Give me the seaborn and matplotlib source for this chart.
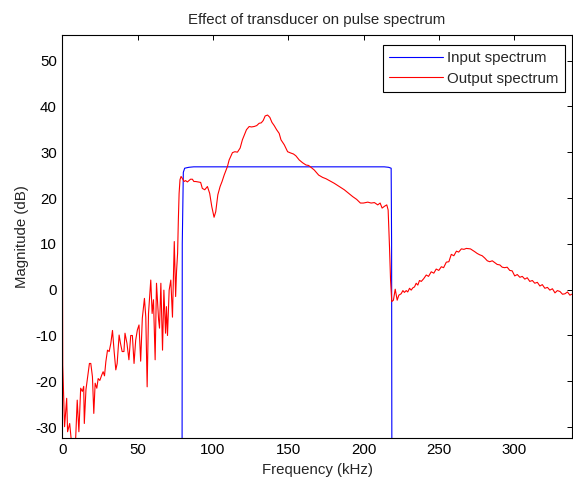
import numpy as np
import pandas as pd
import matplotlib
matplotlib.use("Agg")
import matplotlib.pyplot as plt
import seaborn as sns

# ---- data ----
input_freq = [0, 79.3, 79.6, 80.3, 81.2, 84.0, 87.2, 150.0, 213.6, 216.5, 218.2, 218.5, 218.9, 338.0]
input_db = [-100, -100, 10.0, 25.6, 26.5, 26.7, 26.8, 26.8, 26.8, 26.7, 26.5, 10.0, -100, -100]

output_freq = [
    0.0, 0.3, 1.5, 2.9, 3.5, 4.9, 6.0, 7.5, 8.8, 9.9, 11.0, 12.2, 13.3, 14.2, 14.6,
    15.7, 16.9, 18.0, 18.9, 20.0, 20.9, 21.8, 22.9, 23.8, 24.9, 26.2, 27.1, 28.0,
    28.9, 30.0, 31.1, 32.2, 33.3, 34.4, 35.5, 36.4, 37.7, 38.6, 39.7, 40.9, 41.6,
    42.9, 44.2, 45.4, 46.5, 47.6, 48.7, 49.8, 50.9, 52.0, 53.1, 54.5, 55.4, 56.3,
    57.2, 58.7, 59.6, 60.5, 61.6, 62.5, 63.9, 64.5, 65.4, 66.5, 67.4, 68.5, 69.1,
    69.8, 70.9, 72.0, 73.1, 73.8, 74.3, 75.2, 75.8, 76.5, 77.0, 77.5, 78.1, 78.8,
    79.6, 80.8, 81.8, 83.0, 84.0, 85.1, 86.3, 87.3, 88.5, 90.0, 91.8, 92.9, 94.5,
    96.3, 97.8, 99.2, 100.7, 101.8, 103.2, 104.7, 106.0, 107.4, 109.6, 110.7,
    112.9, 114.5, 116.2, 118.0, 119.5, 121.0, 122.2, 124.0, 125.5, 127.3, 129.0,
    130.6, 132.0, 133.3, 134.6, 136.2, 137.7, 139.1, 140.6, 142.2, 143.9, 145.1,
    147.3, 149.5, 151.7, 153.4, 155.0, 157.2, 159.4, 161.7, 163.4, 165.0, 167.2,
    170.1, 172.7, 175.0, 177.2, 180.5, 183.8, 187.1, 190.5, 192.7, 195.3, 197.8,
    199.8, 202.7, 204.9, 207.1, 209.3, 210.9, 212.2, 213.8, 215.3, 216.2, 217.1,
    217.8, 218.6, 219.7, 220.9, 222.2, 223.3, 224.8, 226.0, 227.0, 228.2, 229.2,
    230.4, 231.5, 232.6, 233.7, 234.8, 235.9, 237.0, 238.2, 239.8, 241.5, 243.0,
    244.8, 246.5, 248.1, 249.8, 251.5, 253.0, 254.8, 256.5, 258.1, 259.8, 261.5,
    263.0, 264.8, 266.5, 268.1, 270.8, 273.6, 275.3, 277.0, 278.6, 280.3, 282.0,
    283.6, 285.3, 286.9, 288.6, 290.3, 291.9, 293.5, 295.2, 296.9, 298.5, 300.2,
    301.9, 303.6, 305.2, 306.9, 308.5, 310.2, 311.9, 313.5, 315.2, 316.9, 318.5,
    320.2, 321.9, 323.5, 325.2, 326.9, 328.5, 330.2, 331.9, 333.5, 335.2, 336.8,
    338.0,
]
output_db = [
    19.5, -16.5, -29.9, -23.7, -31.0, -29.2, -33.0, -33.0, -33.0, -24.1, -31.0,
    -21.5, -22.2, -21.1, -29.2, -21.8, -18.8, -16.1, -16.1, -19.0, -27.0, -20.4,
    -21.5, -19.4, -19.8, -18.6, -17.9, -18.8, -15.7, -13.2, -13.5, -11.7, -8.9,
    -13.5, -17.5, -16.1, -9.9, -11.7, -13.5, -13.5, -9.5, -11.7, -15.3, -10.0,
    -10.0, -16.1, -11.0, -8.8, -7.7, -15.6, -6.2, -1.9, -6.0, -21.2, -5.2, 2.1,
    -5.2, -2.2, -15.3, 1.4, -6.6, -8.4, 1.4, -13.2, -0.1, -9.5, -3.7, -10.0, -0.1,
    2.1, -6.0, 3.5, 10.5, -1.5, 4.0, 7.9, 15.2, 21.0, 24.0, 24.7, 24.3, 23.6, 23.8,
    23.5, 23.8, 24.1, 24.1, 23.6, 23.6, 23.5, 23.4, 22.1, 21.8, 22.5, 21.0, 18.1,
    15.8, 17.0, 20.7, 22.5, 23.6, 25.0, 26.9, 28.3, 29.9, 30.1, 30.0, 30.9, 32.7,
    33.9, 34.9, 35.6, 35.5, 35.6, 35.8, 36.3, 36.4, 36.9, 37.9, 38.1, 37.6, 36.5,
    35.8, 34.9, 34.1, 32.7, 31.6, 30.1, 29.8, 29.6, 29.2, 28.3, 27.7, 27.2, 27.1,
    26.7, 26.1, 25.0, 24.5, 24.2, 23.8, 23.2, 22.5, 21.8, 20.9, 20.3, 19.7, 18.9,
    18.9, 19.1, 18.9, 19.0, 18.5, 18.9, 17.8, 18.2, 18.5, 17.4, 9.4, 2.1, -2.6,
    -2.3, 0.1, -2.3, -1.2, -0.9, -0.2, -0.6, -0.2, -0.5, 0.3, -0.1, 0.4, 0.6, 1.4,
    1.0, 2.0, 1.8, 2.4, 3.2, 2.9, 3.9, 3.6, 4.5, 4.2, 5.0, 4.8, 6.0, 6.1, 7.7, 7.4,
    8.4, 8.2, 8.9, 8.8, 9.0, 8.9, 8.3, 7.9, 7.6, 7.4, 6.9, 6.3, 6.1, 6.3, 5.9, 5.5,
    5.4, 4.9, 4.8, 4.9, 4.2, 4.1, 3.0, 3.3, 2.7, 2.9, 2.3, 2.6, 1.8, 2.0, 1.4, 1.6,
    0.8, 1.1, 0.3, 0.5, -0.1, 0.2, -0.7, -0.2, -0.4, -1.0, -0.9, -0.5, -1.2, -1.0,
]

x_ticks = [0, 50, 100, 150, 200, 250, 300]
y_ticks = [-30, -20, -10, 0, 10, 20, 30, 40, 50]

# ---- plotting ----
sns.set_style("white")
plt.rcParams["font.family"] = ["Liberation Sans", "DejaVu Sans"]
plt.rcParams["axes.unicode_minus"] = False

FS = 10.8

fig = plt.figure(figsize=(5.73, 4.79), dpi=100)
ax = fig.add_axes([62.3 / 573, (479 - 437.7) / 479, (571.7 - 62.3) / 573, (437.7 - 35.3) / 479])

df_in = pd.DataFrame({"freq": input_freq, "db": input_db})
df_out = pd.DataFrame({"freq": output_freq, "db": output_db})

sns.lineplot(data=df_in, x="freq", y="db", ax=ax, color=(0, 0, 1), lw=0.8,
             estimator=None, sort=False, label="Input spectrum")
sns.lineplot(data=df_out, x="freq", y="db", ax=ax, color=(1, 0, 0), lw=0.8,
             estimator=None, sort=False, label="Output spectrum")

ax.set_xlim(0, 338)
ax.set_ylim(-32.3, 55.5)
ax.set_xticks(x_ticks)
ax.set_yticks(y_ticks)
ax.tick_params(direction="in", top=True, right=True, length=3.6, width=0.7,
               labelsize=FS, colors="black", pad=4)
for s in ax.spines.values():
    s.set_visible(True)
    s.set_color("black")
    s.set_linewidth(0.8)

ax.set_title("Effect of transducer on pulse spectrum", fontsize=FS, pad=8)
ax.set_xlabel("Frequency (kHz)", fontsize=FS, labelpad=4)
ax.set_ylabel("Magnitude (dB)", fontsize=FS, labelpad=4)

leg = ax.legend(loc="upper right", bbox_to_anchor=(0.9868, 0.9759), borderaxespad=0,
                fontsize=FS, frameon=True, fancybox=False, shadow=False,
                handlelength=3.6, handletextpad=0.3, labelspacing=0.42,
                borderpad=0.42)
leg.get_frame().set_edgecolor("black")
leg.get_frame().set_linewidth(0.8)
leg.get_frame().set_alpha(1)

fig.savefig("out.png", dpi=100)
